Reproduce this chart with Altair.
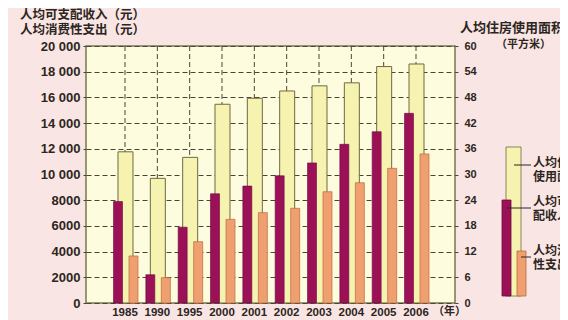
import altair as alt
import pandas as pd

years = ["1985", "1990", "1995", "2000", "2001", "2002", "2003", "2004", "2005", "2006"]
income = [7900, 2200, 5900, 8500, 9100, 9900, 10900, 12350, 13330, 14760]
consumption = [3660, 1970, 4770, 6510, 7030, 7370, 8660, 9360, 10480, 11600]
housing = [35.3, 29.1, 34.0, 46.4, 47.8, 49.5, 50.7, 51.4, 55.2, 55.8]

left_ticks = list(range(0, 20001, 2000))
right_ticks = list(range(0, 61, 6))

df = pd.DataFrame({"year": years, "income": income,
                   "consumption": consumption, "housing": housing})

CJK = "Noto Sans CJK SC"
NUM = "Liberation Sans"
DARK = "#2b2622"
GRID = "#4a4636"

xscale = alt.Scale(paddingInner=0.5, paddingOuter=0.956)
xaxis = alt.Axis(title=None, labelAngle=0, ticks=False, domain=False, grid=False,
                 labelPadding=3, labelFont=NUM, labelFontSize=11.5,
                 labelFontWeight="bold", labelColor=DARK)

vgrid = alt.Chart(df).mark_rule(color=GRID, strokeDash=[5, 3], strokeWidth=1).encode(
    x=alt.X("year:N", scale=xscale, sort=years, axis=xaxis),
    y=alt.value(0), y2=alt.value(257))

housing_bar = alt.Chart(df).mark_bar(width=15, xOffset=0.5, fill="#f6f2b0",
                                     stroke="#6e6a40", strokeWidth=1).encode(
    x=alt.X("year:N", sort=years, axis=xaxis),
    y=alt.Y("housing:Q", scale=alt.Scale(domain=[0, 60], nice=False),
            axis=alt.Axis(orient="right", title=None, values=right_ticks, grid=False,
                          domain=False, ticks=True, tickSize=3, tickColor=GRID,
                          labelPadding=6, labelFont=NUM, labelFontSize=11,
                          labelFontWeight="bold", labelColor=DARK)))

income_bar = alt.Chart(df).mark_bar(width=9, xOffset=-7, fill="#9c1057",
                                    stroke="#6a0a3a", strokeWidth=0.6).encode(
    x=alt.X("year:N", sort=years, axis=xaxis),
    y=alt.Y("income:Q", scale=alt.Scale(domain=[0, 20000], nice=False),
            axis=alt.Axis(orient="left", title=None, values=left_ticks, grid=True,
                          gridDash=[5, 3], gridColor=GRID, gridWidth=1,
                          domain=False, ticks=True, tickSize=3, tickColor=GRID,
                          labelPadding=3, labelFont=NUM, labelFontSize=13,
                          labelFontWeight="bold", labelColor=DARK,
                          labelExpr="datum.value >= 10000 ? format(datum.value/1000,'d') + ' 000' : format(datum.value,'d')")))

cons_bar = alt.Chart(df).mark_bar(width=9, xOffset=8.5, fill="#f0a070",
                                  stroke="#b86a3c", strokeWidth=0.7).encode(
    x=alt.X("year:N", sort=years, axis=xaxis),
    y=alt.Y("consumption:Q", scale=alt.Scale(domain=[0, 20000], nice=False), axis=None))

dummy = pd.DataFrame({"a": [0]})

def txt(s, x, y, size=13, align="left"):
    return alt.Chart(dummy).mark_text(text=s, align=align, baseline="middle",
                                      font=CJK, fontSize=size, fontWeight="bold",
                                      color=DARK).encode(x=alt.value(x), y=alt.value(y))

def rect(x1, x2, y1, y2, fill, stroke):
    return alt.Chart(dummy).mark_rect(fill=fill, stroke=stroke, strokeWidth=0.8).encode(
        x=alt.value(x1), x2=alt.value(x2), y=alt.value(y1), y2=alt.value(y2))

def rule(x1, x2, y):
    return alt.Chart(dummy).mark_rule(color=DARK, strokeWidth=1).encode(
        x=alt.value(x1), x2=alt.value(x2), y=alt.value(y))

texts = [
    txt("人均可支配收入（元）", -66, -31, size=12.5),
    txt("人均消费性支出（元）", -66, -16, size=12.5),
    txt("人均住房使用面积", 374, -18),
    txt("（平方米）", 410, -1, size=11),
    txt("（年）", 347, 266, size=11),
    txt("人均住房", 447, 117, size=12),
    txt("使用面积", 447, 131, size=12),
    txt("人均可支", 447, 156, size=12),
    txt("配收入", 447, 170, size=12),
    txt("人均消费", 447, 205, size=12),
    txt("性支出", 447, 219, size=12),
]

legend = [
    rect(420, 435, 101, 250, "#f6f2b0", "#6e6a40"),
    rect(416, 425, 154, 250, "#9c1057", "#6a0a3a"),
    rect(431, 440, 205, 250, "#f0a070", "#b86a3c"),
    rule(428, 445, 119),
    rule(421, 445, 162),
    rule(435, 445, 211),
]

chart = alt.layer(vgrid, housing_bar, income_bar, cons_bar, *legend, *texts).resolve_scale(
    y="independent").properties(
    width=369, height=257,
    autosize=alt.AutoSizeParams(type="none"),
    padding={"left": 78, "top": 38, "right": 105, "bottom": 17},
    background="#f9e5e3",
).configure_view(fill="#fdfcdf", stroke="#7a7650", strokeWidth=1.5)

chart.save("out.html", embed_options={"renderer": "svg", "actions": False})
